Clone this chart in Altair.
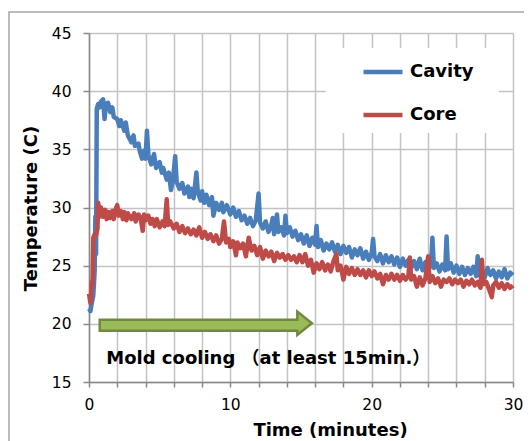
import altair as alt
import pandas as pd

# ---------------- data ----------------
cavity_time = [0.0,0.1,0.2,0.3,0.4,0.45,0.5,0.55,0.65,0.75,
               0.85,1.0,1.1,1.2,1.35,1.5,1.65,1.75,2.0,2.15,
               2.25,2.5,2.6,2.75,3.0,3.15,3.25,3.5,3.6,3.75,
               3.9,4.0,4.1,4.2,4.4,4.6,4.75,5.0,5.15,5.25,
               5.5,5.65,5.8,5.95,6.1,6.2,6.4,6.6,6.75,7.0,
               7.1,7.25,7.4,7.6,7.7,7.9,8.0,8.15,8.3,8.5,
               8.7,8.8,9.0,9.2,9.4,9.5,9.75,10.0,10.2,10.4,
               10.6,10.8,11.0,11.2,11.4,11.6,11.8,12.0,12.1,12.3,
               12.5,12.7,12.9,13.0,13.1,13.3,13.4,13.6,13.8,13.9,
               14.0,14.2,14.4,14.6,14.8,15.0,15.2,15.4,15.6,15.8,
               16.0,16.1,16.2,16.4,16.6,16.8,17.0,17.2,17.4,17.6,
               17.8,18.0,18.2,18.4,18.6,18.8,19.0,19.2,19.4,19.6,
               19.8,20.0,20.1,20.2,20.4,20.6,20.8,21.0,21.2,21.4,
               21.6,21.8,22.0,22.2,22.4,22.6,22.8,23.0,23.2,23.4,
               23.6,23.8,24.0,24.2,24.3,24.4,24.6,24.8,25.0,25.2,
               25.3,25.4,25.6,25.8,26.0,26.2,26.4,26.6,26.8,27.0,
               27.2,27.4,27.5,27.6,27.8,28.0,28.2,28.4,28.6,28.8,
               29.0,29.2,29.4,29.6,29.8,30.0]
cavity_temp = [21.3,21.1,21.8,22.4,24.5,29.2,26.0,38.5,38.9,38.6,
               39.1,39.3,37.6,38.9,39.0,38.2,38.6,37.8,37.6,37.0,
               37.5,36.6,37.3,36.2,35.6,36.2,35.3,35.5,34.8,34.2,
               34.9,34.2,36.6,34.5,33.7,34.6,33.4,33.9,33.0,33.4,
               32.4,33.0,31.5,32.5,34.4,32.2,31.6,32.1,31.2,31.8,
               30.9,31.6,30.8,33.0,31.3,30.6,31.4,30.4,31.1,30.2,
               30.9,29.3,30.4,29.8,30.4,29.6,30.2,29.4,30.0,29.2,
               29.7,28.9,29.3,28.6,29.1,28.4,28.9,31.2,28.7,28.2,
               28.8,27.9,28.5,29.1,27.7,29.4,27.9,28.3,27.6,29.3,
               27.8,28.3,27.5,28.0,27.2,27.7,26.9,27.6,26.7,27.4,
               26.8,28.4,26.6,27.2,26.3,26.9,26.4,27.0,26.2,26.8,
               26.0,26.7,26.1,26.6,25.7,26.4,25.9,26.5,25.6,26.2,
               25.5,26.1,27.3,25.8,25.4,26.0,25.2,25.9,25.3,25.8,
               25.1,25.7,24.9,25.6,25.0,25.5,24.8,25.4,24.7,25.6,
               24.6,25.3,24.6,25.1,27.4,24.8,25.2,24.5,25.1,24.6,
               27.5,24.7,25.2,24.4,25.0,24.3,24.9,24.2,24.8,24.3,
               24.9,24.1,25.8,24.2,24.7,24.0,24.8,24.2,24.6,23.9,
               24.5,24.0,24.7,23.9,24.4,24.2]

core_time = [0.0,0.1,0.2,0.25,0.3,0.4,0.5,0.6,0.65,0.75,
             0.85,1.0,1.15,1.25,1.4,1.5,1.65,1.75,1.9,2.0,
             2.1,2.25,2.4,2.5,2.65,2.75,2.9,3.0,3.2,3.3,
             3.5,3.65,3.8,3.9,4.0,4.2,4.35,4.5,4.65,4.8,
             5.0,5.2,5.35,5.5,5.6,5.75,6.0,6.2,6.4,6.6,
             6.8,7.0,7.2,7.4,7.6,7.8,8.0,8.2,8.4,8.6,
             8.8,9.0,9.2,9.4,9.55,9.7,9.9,10.0,10.2,10.4,
             10.5,10.7,10.9,11.1,11.3,11.5,11.7,11.9,12.1,12.3,
             12.5,12.7,12.9,13.1,13.3,13.5,13.7,13.9,14.1,14.3,
             14.5,14.7,14.9,15.1,15.3,15.5,15.7,15.9,16.1,16.3,
             16.5,16.7,16.9,17.1,17.3,17.5,17.6,17.8,18.0,18.2,
             18.4,18.6,18.8,19.0,19.2,19.4,19.6,19.8,20.0,20.2,
             20.4,20.6,20.8,21.0,21.2,21.4,21.6,21.8,22.0,22.2,
             22.4,22.6,22.7,22.8,23.0,23.2,23.4,23.6,23.8,24.0,
             24.1,24.3,24.5,24.7,24.9,25.1,25.3,25.5,25.7,25.9,
             26.1,26.3,26.5,26.7,26.9,27.1,27.3,27.5,27.7,27.8,
             27.9,28.1,28.3,28.5,28.6,28.8,29.0,29.2,29.4,29.6,
             29.8,30.0]
core_temp = [22.6,21.8,23.6,23.4,27.4,27.7,27.6,28.2,30.4,29.2,
             30.0,29.2,29.8,29.0,29.6,29.1,29.7,29.0,29.9,30.2,
             29.3,29.7,29.0,29.6,28.9,29.5,29.2,29.0,29.5,28.8,
             29.4,29.1,28.0,29.4,28.9,29.3,28.6,29.0,28.4,29.0,
             28.3,28.8,28.4,30.7,28.5,28.8,28.2,28.6,27.9,28.4,
             27.8,28.2,27.7,28.1,27.6,28.3,27.4,27.9,27.3,27.7,
             27.1,27.6,26.9,27.3,28.8,27.0,27.3,26.6,27.1,25.9,
             27.0,26.5,26.9,25.8,27.4,26.3,26.7,25.9,26.6,25.6,
             26.3,25.8,26.2,25.4,26.1,25.7,26.0,25.5,25.9,25.5,
             25.8,25.3,25.9,25.3,26.0,25.0,25.5,24.4,25.2,24.7,
             25.3,24.6,25.1,24.5,25.4,26.0,24.6,25.0,23.8,24.9,
             24.3,24.8,24.2,24.7,24.2,24.6,24.0,24.6,24.1,24.5,
             23.9,24.3,23.4,24.2,23.8,24.3,23.8,24.2,23.7,24.2,
             23.8,24.1,25.7,23.8,24.1,23.2,24.0,23.3,23.9,25.8,
             23.6,24.1,23.5,23.9,23.2,23.8,23.6,23.9,23.4,23.8,
             23.5,23.8,23.2,23.7,23.4,23.8,23.3,23.6,23.1,25.5,
             23.4,23.6,23.0,22.3,23.3,23.6,23.1,23.5,23.0,23.4,
             23.1,23.3]

series_names = ["Cavity", "Core"]
series_colors = ["#4A7EBB", "#BE4B48"]

x_ticks = [0, 2, 4, 6, 8, 10, 12, 14, 16, 18, 20, 22, 24, 26, 28, 30]
y_ticks = [15, 20, 25, 30, 35, 40, 45]

# annotation arrow outline: upper edge y / lower edge y2 along x
arrow_x = [0.76, 14.74, 14.74, 15.77]
arrow_y = [20.35, 20.35, 21.05, 20.05]
arrow_y2 = [19.4, 19.4, 19.05, 20.05]
annotation_text = "Mold cooling （at least 15min.）"
annotation_pos = (1.22, 16.96)

# white box behind the legend
legend_box = {"x": [16.77], "x2": [29.0], "y": [43.7], "y2": [36.4]}

assert len(cavity_time) == len(cavity_temp)
assert len(core_time) == len(core_temp)

df_cav = pd.DataFrame({"time": cavity_time, "temp": cavity_temp, "series": "Cavity"})
df_core = pd.DataFrame({"time": core_time, "temp": core_temp, "series": "Core"})
df_arrow = pd.DataFrame({"x": arrow_x, "y": arrow_y, "y2": arrow_y2})
df_text = pd.DataFrame({"x": [annotation_pos[0]], "y": [annotation_pos[1]], "label": [annotation_text]})
df_box = pd.DataFrame(legend_box)

FONT = "DejaVu Sans"
x_scale = alt.Scale(domain=[0, 30], nice=False, zero=False)
y_scale = alt.Scale(domain=[15, 45], nice=False, zero=False)
color_scale = alt.Scale(domain=series_names, range=series_colors)

x_axis = alt.Axis(
    values=x_ticks, labelExpr="datum.value % 10 === 0 ? datum.label : ''",
    title="Time (minutes)", grid=True, gridColor="#C3C3C3", gridWidth=1.5,
    domainColor="#888888", domainWidth=1.5, tickColor="#888888", tickWidth=1.5,
    tickSize=5, labelFont=FONT, labelFontSize=15.5, labelColor="#000000",
    labelPadding=10, labelFlush=False, labelOverlap=False,
    titleFont=FONT, titleFontSize=18, titleFontWeight="bold", titleColor="#000000",
    titleX=241, titleY=53, titleAlign="center", titleBaseline="alphabetic",
)
y_axis = alt.Axis(
    values=y_ticks, title="Temperature (C)", grid=True, gridColor="#C3C3C3",
    gridWidth=1.5, domainColor="#888888", domainWidth=1.5, tickColor="#888888",
    tickWidth=1.5, tickSize=6, labelFont=FONT, labelFontSize=15.5,
    labelColor="#000000", labelPadding=12, labelFlush=False, labelOverlap=False,
    titleFont=FONT, titleFontSize=18, titleFontWeight="bold", titleColor="#000000",
    titleX=-58, titleY=175, titleAngle=270, titleAlign="center", titleBaseline="middle",
)
legend = alt.Legend(
    title=None, orient="none", legendX=272, legendY=17, symbolType="stroke",
    symbolStrokeWidth=4.5, symbolSize=1521, labelFont=FONT, labelFontSize=18,
    labelFontWeight="bold", labelColor="#000000", labelOffset=5, rowPadding=12,
    padding=0,
)

frame = alt.Chart(alt.Data(values=[{}])).mark_rect(
    filled=False, stroke="#A6A6A6", strokeWidth=1.5
).encode(x=alt.value(-80), x2=alt.value(700), y=alt.value(-21), y2=alt.value(900))

box = alt.Chart(df_box).mark_rect(color="white").encode(
    x=alt.X("x:Q", scale=x_scale, axis=x_axis), x2="x2:Q",
    y=alt.Y("y:Q", scale=y_scale, axis=y_axis), y2="y2:Q",
)

arrow = alt.Chart(df_arrow).mark_area(
    fill="#9BBB59", stroke="#71893F", strokeWidth=2.5, strokeJoin="miter", opacity=1
).encode(
    x=alt.X("x:Q", scale=x_scale, axis=x_axis),
    y=alt.Y("y:Q", scale=y_scale, axis=y_axis), y2="y2:Q",
)

text = alt.Chart(df_text).mark_text(
    align="left", baseline="middle", font=FONT + ", Noto Sans CJK JP",
    fontSize=18, fontWeight="bold", color="#000000"
).encode(
    x=alt.X("x:Q", scale=x_scale, axis=x_axis),
    y=alt.Y("y:Q", scale=y_scale, axis=y_axis), text="label:N",
)

def series_line(df):
    return alt.Chart(df).mark_line(strokeWidth=4.5, strokeJoin="round").encode(
        x=alt.X("time:Q", scale=x_scale, axis=x_axis),
        y=alt.Y("temp:Q", scale=y_scale, axis=y_axis),
        color=alt.Color("series:N", scale=color_scale, legend=legend),
    )

chart = alt.layer(
    frame, box, series_line(df_cav), series_line(df_core), arrow, text
).properties(
    width=424, height=349,
    autosize=alt.AutoSizeParams(type="none"),
    padding={"left": 81, "top": 25, "right": 11, "bottom": 67},
    background="white",
).configure_view(stroke=None)

chart.save("out.html", embed_options={"renderer": "svg", "actions": False})
